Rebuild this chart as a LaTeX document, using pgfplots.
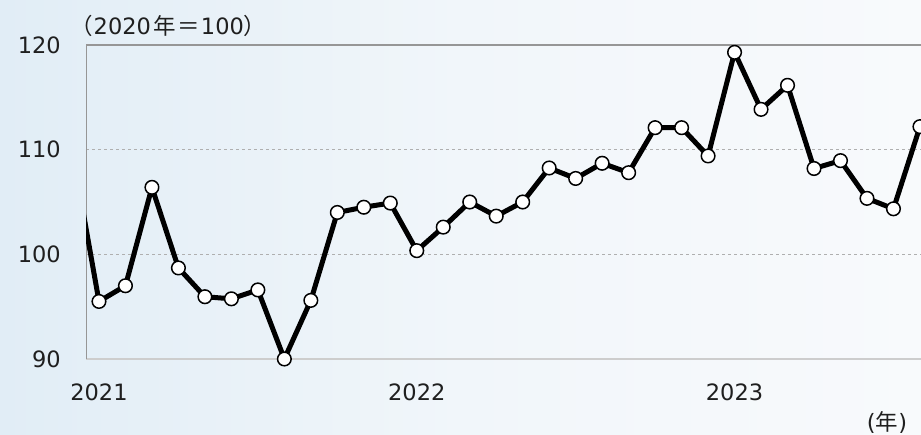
\documentclass[border=0pt]{standalone}
\usepackage{fontspec}
\setmainfont{DejaVu Sans}
\newfontfamily\cjk{Noto Sans CJK JP}
\usepackage{pgfplots}
\pgfplotsset{compat=1.18}
\usepackage{pgfplotstable}
\definecolor{bgL}{RGB}{225,237,246}
\definecolor{bgM}{RGB}{241,246,250}
\definecolor{bgR}{RGB}{248,250,252}
\pgfplotstableread{
x y
0 109.8
1 95.5
2 97.0
3 106.4
4 98.7
5 95.95
6 95.75
7 96.6
8 90.0
9 95.6
10 104.0
11 104.5
12 104.9
13 100.35
14 102.6
15 105.0
16 103.65
17 105.0
18 108.25
19 107.25
20 108.7
21 107.8
22 112.1
23 112.1
24 109.4
25 119.3
26 113.85
27 116.15
28 108.2
29 108.95
30 105.35
31 104.35
32 112.2
}\datatable
\begin{document}
\begin{tikzpicture}
\useasboundingbox (0pt,0pt) rectangle (921pt,434pt);
\shade[left color=bgL, right color=bgR, middle color=bgM] (0pt,0pt) rectangle (921pt,434pt);
\begin{axis}[
  at={(86pt,75pt)}, anchor=south west,
  scale only axis, width=835pt, height=314pt,
  xmin=0.51, xmax=32.04, ymin=90, ymax=120,
  axis x line*=bottom, axis y line*=left,
  x axis line style={draw={rgb,255:red,205;green,205;blue,205}, line width=1.6pt},
  y axis line style={draw={rgb,255:red,150;green,150;blue,150}, line width=1pt},
  xtick={1,13,25}, xticklabels={2021,2022,2023},
  ytick={90,100,110},
  extra y ticks={120},
  extra y tick style={grid style={solid, draw={rgb,255:red,150;green,150;blue,150}, line width=1.2pt}},
  ymajorgrids,
  grid style={dashed, draw={rgb,255:red,175;green,175;blue,175}, line width=0.6pt},
  major tick length=0pt,
  /pgf/number format/assume math mode=true,
  ticklabel style={font=\fontsize{22.5}{27}\selectfont, text=black!88},
  yticklabel style={anchor=east, inner sep=0pt, xshift=-25pt},
  xticklabel style={anchor=north, inner sep=0pt, yshift=-25pt},
]
\addplot[black, line width=5pt, line join=round,
  mark=*, mark repeat=1, mark phase=1, mark size=6.8pt,
  mark options={fill=white, draw=black, line width=1.5pt}]
  table[x=x, y=y] {\datatable};
\end{axis}
\node[anchor=west, inner sep=0pt, text=black!88] at (70pt,408pt) {\fontsize{22.5}{27}\selectfont{\cjk （}\kern1pt 2020\kern3pt{\cjk 年}\kern1pt{\cjk ＝}\kern1pt 100{\cjk ）}};
\node[inner sep=0pt, text=black!88] at (887pt,12pt) {\fontsize{22.5}{27}\selectfont({\cjk 年})};
\end{tikzpicture}
\end{document}
